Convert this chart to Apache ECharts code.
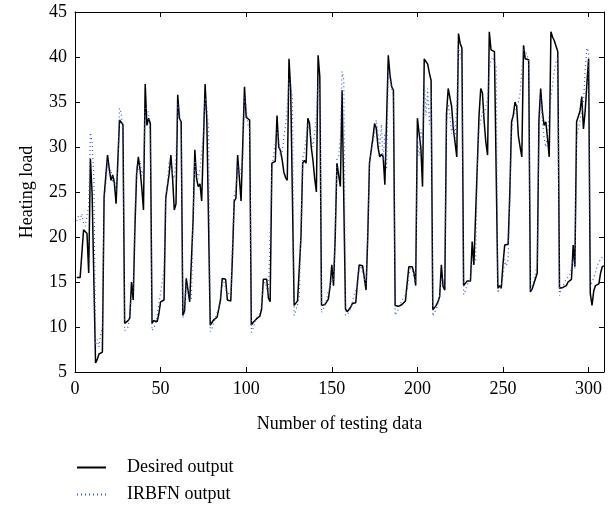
<!DOCTYPE html>
<html>
<head>
<meta charset="utf-8">
<script src="https://cdn.jsdelivr.net/npm/echarts@6/dist/echarts.min.js"></script>
<style>
html,body{margin:0;padding:0;background:#fff;}
#chart{width:616px;height:506px;}
</style>
</head>
<body>
<div id="chart"></div>
<script>
const xTicks = [0, 50, 100, 150, 200, 250, 300];
const yTicks = [5, 10, 15, 20, 25, 30, 35, 40, 45];

const desiredOutput = [
15.5,15.5,15.5,15.5,20.8,20.8,20.4,16.0,28.7,24.8,
24.7,6.0,6.4,7.0,7.0,7.2,24.5,24.7,29.1,27.6,
26.3,26.9,26.0,23.7,23.6,33.0,32.8,32.5,10.4,10.6,
10.7,11.0,15.0,13.0,21.0,27.0,28.9,27.5,25.5,23.0,
37.0,32.4,33.2,32.6,10.4,10.7,10.8,10.6,11.5,12.8,
12.9,13.0,24.3,24.5,27.0,29.1,26.5,23.0,23.7,35.8,
33.2,32.8,11.3,11.8,15.4,15.3,12.8,12.7,22.0,29.7,
26.5,25.6,25.9,24.0,24.1,37.0,33.0,33.0,10.2,10.5,
10.8,11.0,11.1,11.2,13.0,15.4,15.4,15.3,13.0,13.0,
12.9,18.0,24.0,24.3,29.1,26.6,24.0,24.2,36.7,33.3,
33.2,33.0,10.2,10.5,10.7,10.9,11.1,11.2,12.0,15.3,
15.3,15.3,13.2,12.8,28.2,28.3,28.4,33.5,30.0,29.6,
28.6,27.2,26.6,26.3,39.8,36.3,36.3,12.4,12.6,12.9,
13.0,20.0,28.2,28.5,28.2,33.2,32.6,30.0,28.5,26.5,
25.0,40.2,37.8,12.4,12.3,12.5,12.8,13.1,14.5,16.9,
14.6,20.0,28.2,28.0,25.6,36.3,36.5,12.0,11.7,11.9,
12.2,12.6,12.8,12.7,15.0,16.9,16.9,16.8,16.7,14.1,
20.0,28.2,28.4,31.0,32.6,32.1,30.0,28.9,29.2,28.9,
25.8,25.9,40.2,38.0,36.7,36.3,12.4,12.3,12.3,12.4,
12.5,12.7,12.9,13.0,16.7,16.7,16.7,16.0,14.6,33.2,
31.5,30.0,25.6,39.8,39.6,39.2,38.2,37.4,11.9,12.1,
12.4,12.8,13.4,16.9,14.5,14.1,33.7,36.5,36.3,34.5,
32.0,30.5,28.9,42.6,41.5,41.0,14.6,14.8,15.1,15.1,
15.1,19.5,16.9,16.8,28.0,33.5,36.5,36.0,32.8,30.5,
29.1,42.8,40.8,40.6,40.6,40.6,14.3,14.6,14.3,17.0,
19.1,19.1,19.2,25.0,32.8,33.5,35.0,34.5,31.2,30.0,
28.9,41.3,39.8,39.6,39.7,13.9,14.2,14.8,15.4,16.0,
33.0,36.5,34.0,32.4,32.8,31.0,28.9,42.8,42.2,41.8,
41.2,40.6,14.3,14.4,14.4,14.5,14.6,15.0,15.2,15.3,
19.1,16.7,32.8,32.9,34.0,35.6,32.0,34.0,37.0,39.8,
13.7,12.4,14.0,14.6,14.6,14.8,16.0,16.7,16.8
];

const irbfnOutput = [
21.8,22.3,21.9,22.6,21.5,21.2,22.4,23.5,31.6,30.5,
26.5,8.0,8.6,7.8,9.2,9.8,24.0,25.8,28.5,27.0,
27.5,26.0,26.5,25.0,27.5,34.3,33.8,31.5,9.6,9.8,
10.0,11.5,13.5,14.0,22.5,28.0,27.5,28.5,26.8,27.5,
34.5,34.2,33.8,31.0,9.6,9.9,10.3,11.2,12.6,13.8,
13.6,16.5,24.5,26.0,28.5,28.0,27.0,26.5,29.0,34.8,
34.0,31.5,11.0,11.5,14.8,15.0,13.5,13.0,22.5,28.5,
27.5,26.5,27.5,29.5,31.5,35.5,34.5,32.0,9.5,9.8,
10.5,11.0,11.6,12.0,13.5,14.5,15.0,14.8,13.5,13.8,
13.5,19.5,24.5,25.5,28.0,26.8,27.5,28.5,35.5,34.5,
32.5,32.0,9.4,9.8,10.5,11.0,11.2,11.5,12.5,14.5,
15.0,14.8,13.6,13.4,27.5,29.0,30.5,32.0,30.8,29.0,
29.5,31.0,32.5,34.5,37.5,36.8,35.5,11.3,11.8,12.5,
13.5,21.0,28.8,29.5,31.0,32.5,31.8,30.8,30.0,31.5,
33.5,37.2,36.5,11.6,12.0,12.2,13.0,14.0,14.5,15.5,
15.2,21.0,28.6,29.0,31.0,38.4,37.5,11.3,11.2,11.6,
12.0,12.8,13.5,14.0,14.5,16.5,16.8,16.0,15.8,14.8,
21.0,28.0,29.5,30.5,31.5,33.0,31.5,30.0,32.5,28.5,
31.5,27.5,38.5,37.5,36.5,35.8,11.3,11.5,12.0,12.5,
13.0,13.2,13.5,14.0,15.8,16.5,16.2,15.5,15.0,31.0,
29.0,32.0,30.5,37.5,33.5,36.5,32.5,36.0,11.2,11.6,
12.0,12.5,13.5,15.5,15.0,15.5,32.5,34.8,33.5,31.5,
33.0,31.0,34.5,41.0,40.2,39.5,13.6,14.0,14.6,15.0,
15.3,17.5,17.6,17.2,27.5,32.0,33.0,34.0,33.5,34.5,
35.5,38.5,39.6,40.0,39.8,39.0,13.8,14.0,14.6,15.5,
17.5,16.8,17.5,24.0,31.5,33.5,33.8,34.5,35.0,36.0,
38.5,41.0,40.6,40.3,39.5,14.0,14.5,15.2,16.0,17.0,
31.5,35.5,33.0,31.0,30.0,31.5,33.5,35.5,37.0,38.5,
39.5,40.0,13.5,14.2,14.5,15.0,15.3,15.5,15.8,16.0,
17.5,16.5,31.0,32.0,33.0,34.0,35.0,38.5,41.0,40.6,
14.5,15.0,15.5,16.0,16.8,17.2,17.5,17.8,17.5
];

const seriesNames = ['Desired output', 'IRBFN output'];

const toPairs = arr => arr.map((v, i) => [i + 1, v]);
const FONT = '"Liberation Serif", "DejaVu Serif", serif';
const xMax = 309;

const baseX = {
  type: 'value', min: 0, max: xMax, interval: 50,
  axisLine: {show: true, onZero: false, lineStyle: {color: '#000', width: 1}},
  axisTick: {show: true, inside: true, length: 5, lineStyle: {color: '#000'}},
  splitLine: {show: false}
};
const baseY = {
  type: 'value', min: 5, max: 45, interval: 5,
  axisLine: {show: true, onZero: false, lineStyle: {color: '#000', width: 1}},
  axisTick: {show: true, inside: true, length: 5, lineStyle: {color: '#000'}},
  splitLine: {show: false}
};

const chart = echarts.init(document.getElementById('chart'), null, {renderer: 'canvas'});
chart.setOption({
  animation: false,
  backgroundColor: '#fff',
  grid: {left: 75, right: 12, top: 12, bottom: 134, containLabel: false},
  xAxis: [
    Object.assign({}, baseX, {
      position: 'bottom',
      name: 'Number of testing data', nameLocation: 'middle', nameGap: 43,
      nameTextStyle: {fontFamily: FONT, fontSize: 18, color: '#000'},
      axisLabel: {show: true, fontFamily: FONT, fontSize: 18, color: '#000', margin: 8,
        showMaxLabel: false,
        formatter: v => xTicks.indexOf(v) >= 0 ? String(v) : ''}
    }),
    Object.assign({}, baseX, {position: 'top', axisLabel: {show: false}})
  ],
  yAxis: [
    Object.assign({}, baseY, {
      position: 'left',
      name: 'Heating load', nameLocation: 'middle', nameGap: 39,
      nameTextStyle: {fontFamily: FONT, fontSize: 18, color: '#000'},
      axisLabel: {show: true, fontFamily: FONT, fontSize: 18, color: '#000', margin: 8,
        formatter: v => yTicks.indexOf(v) >= 0 ? String(v) : ''}
    }),
    Object.assign({}, baseY, {position: 'right', axisLabel: {show: false}})
  ],
  legend: {
    orient: 'vertical', left: 76, top: 457, padding: 0,
    itemWidth: 29, itemHeight: 14, itemGap: 6,
    itemStyle: {opacity: 0},
    textStyle: {fontFamily: FONT, fontSize: 18, color: '#000', lineHeight: 21, padding: [0, 0, 0, 16]},
    data: seriesNames
  },
  series: [
    {
      name: seriesNames[0], type: 'line', xAxisIndex: 0, yAxisIndex: 0,
      data: toPairs(desiredOutput), symbol: 'none', showSymbol: false,
      lineStyle: {color: '#000', width: 1.5}, itemStyle: {color: '#000'}, z: 2
    },
    {
      name: seriesNames[1], type: 'line', xAxisIndex: 0, yAxisIndex: 0,
      data: toPairs(irbfnOutput), symbol: 'none', showSymbol: false,
      lineStyle: {color: '#3b5bd6', width: 1.2, type: [1, 3]}, itemStyle: {color: '#3b5bd6'}, z: 3
    }
  ]
});
</script>
</body>
</html>
